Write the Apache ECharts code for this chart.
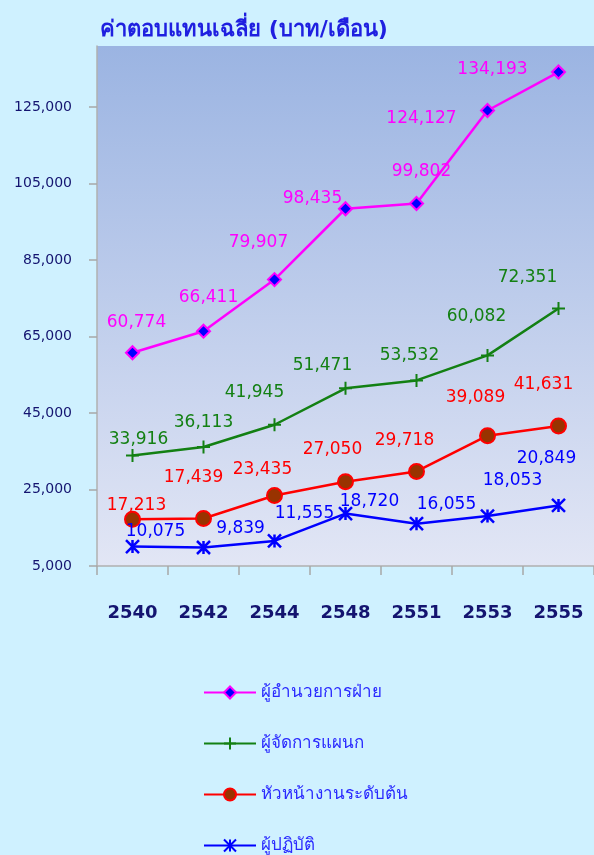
<!DOCTYPE html>
<html lang="th" style="height: 100%">
<head>
  <meta charset="utf-8">
  <script src="https://cdn.jsdelivr.net/npm/echarts/dist/echarts.min.js"></script>
</head>
<body style="height: 100%; margin: 0; background: #cff1ff">
  <div id="container" style="height: 100%"></div>

  <script type="text/javascript">
    // data
    var years = ['2540', '2542', '2544', '2548', '2551', '2553', '2555'];
    var yTicks = [5000, 25000, 45000, 65000, 85000, 105000, 125000];
    var director = [60774, 66411, 79907, 98435, 99802, 124127, 134193];   // ผู้อำนวยการฝ่าย
    var manager = [33916, 36113, 41945, 51471, 53532, 60082, 72351];      // ผู้จัดการแผนก
    var supervisor = [17213, 17439, 23435, 27050, 29718, 39089, 41631];   // หัวหน้างานระดับต้น
    var staff = [10075, 9839, 11555, 18720, 16055, 18053, 20849];         // ผู้ปฏิบัติ

    // where each value label sits relative to its marker (px)
    var offDirector = [[4, -30], [5, -34], [-16, -37], [-33, -10], [5, -32], [-66, 8], [-66, -2]];
    var offManager = [[6, -16], [0, -24], [-20, -32], [-23, -23], [-7, -25], [-11, -39], [-31, -31]];
    var offSupervisor = [[4, -14], [-10, -41], [-12, -26], [-13, -32], [-12, -31], [-12, -38], [-15, -41]];
    var offStaff = [[23, -15], [37, -19], [30, -27], [24, -12], [30, -19], [25, -36], [-12, -47]];

    var font = 'Tahoma, "DejaVu Sans", "Noto Sans", sans-serif';

    function withLabels(values, offsets) {
      return values.map(function (v, i) {
        return { value: v, label: { offset: offsets[i] } };
      });
    }

    function fmt(p) {
      return p.value.toLocaleString('en-US');
    }

    var dom = document.getElementById('container');
    var myChart = echarts.init(dom, null, { renderer: 'canvas' });

    var option = {
      backgroundColor: '#cff1ff',
      title: {
        text: 'ค่าตอบแทนเฉลี่ย (บาท/เดือน)',
        left: 95,
        top: 14,
        textStyle: { color: '#1f1fe0', fontSize: 22, fontWeight: 'bold', fontFamily: font }
      },
      legend: {
        orient: 'vertical',
        left: 198,
        top: 679,
        height: 200,
        itemWidth: 52,
        itemHeight: 15,
        itemGap: 34,
        textStyle: { color: '#2a2aff', fontSize: 17, fontFamily: font },
        data: ['ผู้อำนวยการฝ่าย', 'ผู้จัดการแผนก', 'หัวหน้างานระดับต้น', 'ผู้ปฏิบัติ']
      },
      grid: {
        left: 97,
        right: 0,
        top: 46,
        bottom: 289,
        show: true,
        borderWidth: 0,
        backgroundColor: new echarts.graphic.LinearGradient(0, 0, 0, 1, [
          { offset: 0, color: '#9bb4e2' },
          { offset: 1, color: '#e2e6f5' }
        ])
      },
      xAxis: {
        type: 'category',
        data: years,
        boundaryGap: true,
        axisLine: { lineStyle: { color: '#b0b0b0', width: 1.5 } },
        axisTick: { show: true, length: 9, lineStyle: { color: '#a8a8a8', width: 1.5 } },
        axisLabel: { margin: 38, color: '#141470', fontSize: 18, fontWeight: 'bold', fontFamily: font },
        splitLine: { show: false }
      },
      yAxis: {
        type: 'value',
        min: 5000,
        max: 141000,
        axisLine: { show: true, lineStyle: { color: '#b0b0b0', width: 1.5 } },
        axisTick: { show: true, length: 8, customValues: yTicks, lineStyle: { color: '#a8a8a8', width: 1.5 } },
        axisLabel: {
          customValues: yTicks,
          margin: 25,
          color: '#141470',
          fontSize: 14,
          fontFamily: font,
          formatter: function (v) { return v.toLocaleString('en-US'); }
        },
        splitLine: { show: false }
      },
      series: [
        {
          name: 'ผู้อำนวยการฝ่าย',
          type: 'line',
          data: withLabels(director, offDirector),
          symbol: 'diamond',
          symbolSize: 13,
          lineStyle: { color: '#ff00ff', width: 2.5 },
          itemStyle: { color: '#0000ff', borderColor: '#ff00ff', borderWidth: 2 },
          label: { show: true, position: 'inside', color: '#ff00ff', fontSize: 17, fontFamily: font, formatter: fmt }
        },
        {
          name: 'ผู้จัดการแผนก',
          type: 'line',
          data: withLabels(manager, offManager),
          symbol: 'path://M5,0L5,10M0,5L10,5',
          symbolSize: 13,
          lineStyle: { color: '#138013', width: 2.5 },
          itemStyle: { color: 'rgba(0,0,0,0)', borderColor: '#138013', borderWidth: 2 },
          label: { show: true, position: 'inside', color: '#138013', fontSize: 17, fontFamily: font, formatter: fmt }
        },
        {
          name: 'หัวหน้างานระดับต้น',
          type: 'line',
          data: withLabels(supervisor, offSupervisor),
          symbol: 'circle',
          symbolSize: 15,
          lineStyle: { color: '#ff0000', width: 2.5 },
          itemStyle: { color: '#993300', borderColor: '#ff0000', borderWidth: 2 },
          label: { show: true, position: 'inside', color: '#ff0000', fontSize: 17, fontFamily: font, formatter: fmt }
        },
        {
          name: 'ผู้ปฏิบัติ',
          type: 'line',
          data: withLabels(staff, offStaff),
          symbol: 'path://M0,0L10,10M10,0L0,10M5,0L5,10',
          symbolSize: 13,
          lineStyle: { color: '#0000ff', width: 2.5 },
          itemStyle: { color: 'rgba(0,0,0,0)', borderColor: '#0000ff', borderWidth: 2.5 },
          label: { show: true, position: 'inside', color: '#0000ff', fontSize: 17, fontFamily: font, formatter: fmt }
        }
      ]
    };

    myChart.setOption(option);
    window.addEventListener('resize', myChart.resize);
  </script>
</body>
</html>
